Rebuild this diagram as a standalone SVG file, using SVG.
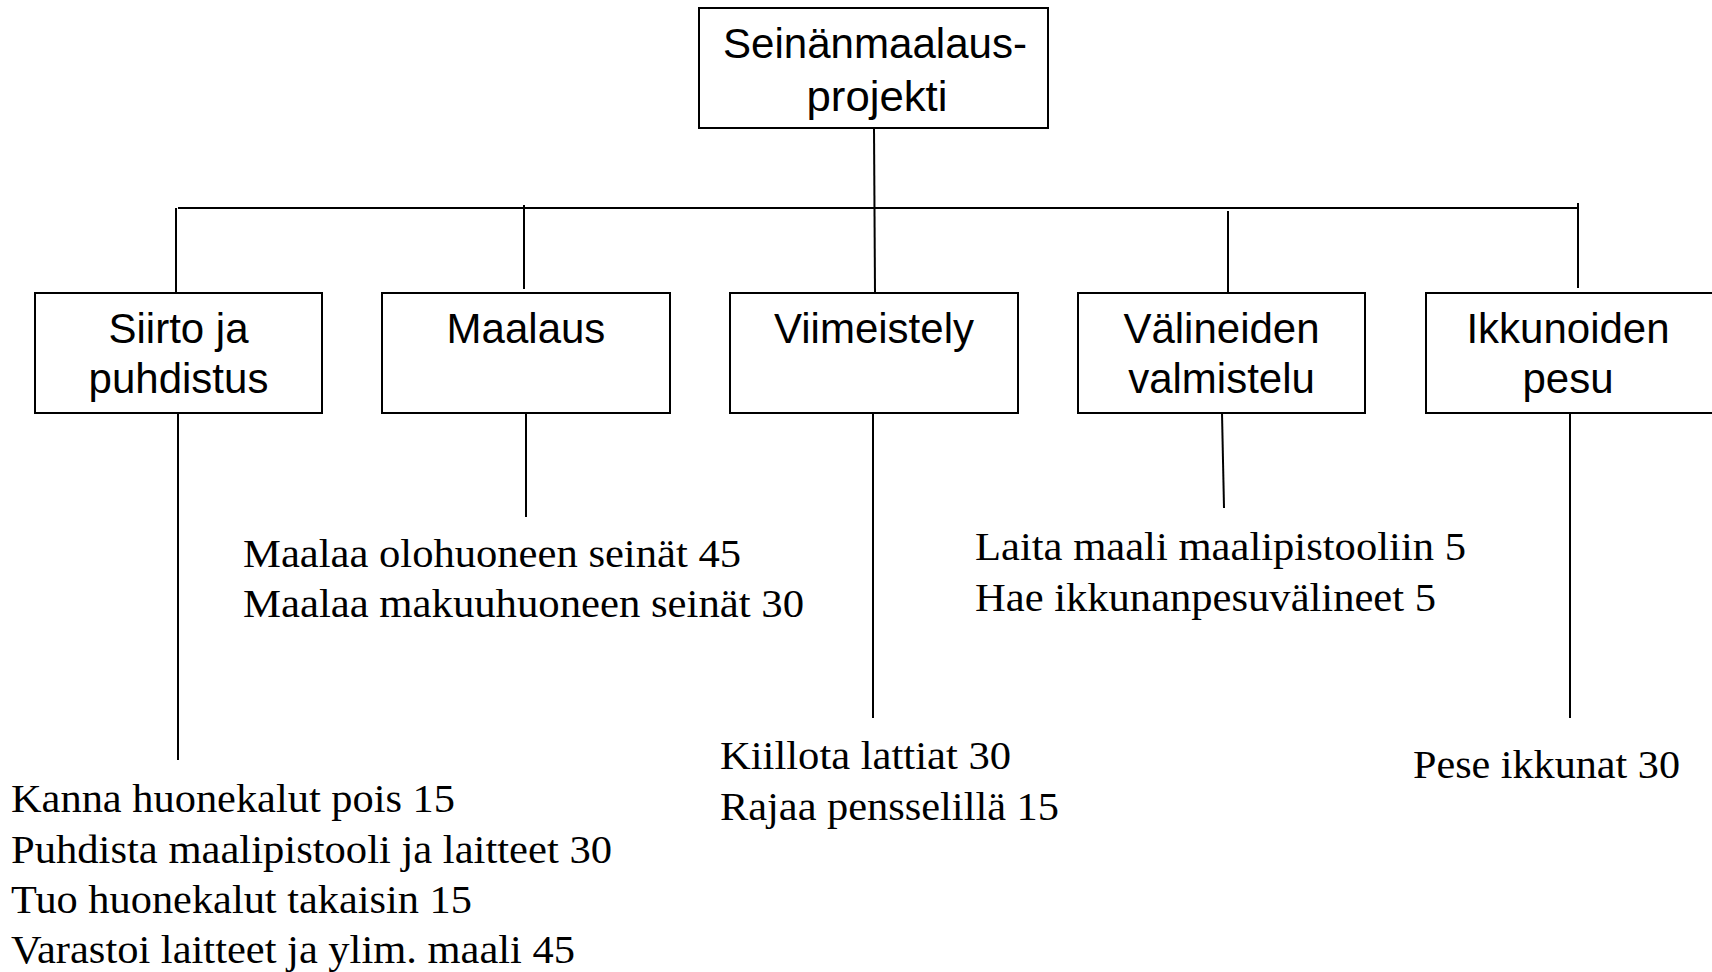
<svg xmlns="http://www.w3.org/2000/svg" width="1712" height="972" viewBox="0 0 1712 972">
<style>
.box{fill:#fff;stroke:#000;stroke-width:2}
.ln{stroke:#000;stroke-width:2;fill:none}
.bt{font-family:"Liberation Sans",Arial,sans-serif;font-size:42px;fill:#000;text-anchor:middle}
.tt{font-family:"Liberation Serif","Times New Roman",serif;font-size:41px;fill:#000}
</style>
<rect width="1712" height="972" fill="#fff"/>
<g id="connectors">
<line class="ln" x1="874" y1="128" x2="875" y2="293"/>
<line class="ln" x1="178" y1="208" x2="1578" y2="208"/>
<line class="ln" x1="1578" y1="203" x2="1578" y2="288"/>
<line class="ln" x1="176" y1="208" x2="176" y2="293"/>
<line class="ln" x1="524" y1="205" x2="524" y2="289"/>
<line class="ln" x1="1228" y1="211" x2="1228" y2="295"/>
<line class="ln" x1="178" y1="413" x2="178" y2="760"/>
<line class="ln" x1="526" y1="413" x2="526" y2="517"/>
<line class="ln" x1="873" y1="413" x2="873" y2="718"/>
<line class="ln" x1="1222" y1="413" x2="1224" y2="508"/>
<line class="ln" x1="1570" y1="413" x2="1570" y2="718"/>
</g>
<g id="root">
<rect class="box" x="699" y="8" width="349" height="120"/>
<text class="bt" x="875" y="58" font-size="40" textLength="304" lengthAdjust="spacingAndGlyphs">Seinänmaalaus-</text>
<text class="bt" x="877" y="111" font-size="40" textLength="141" lengthAdjust="spacingAndGlyphs">projekti</text>
</g>
<g id="siirto">
<rect class="box" x="35" y="293" width="287" height="120"/>
<text class="bt" x="178.5" y="343">Siirto ja</text>
<text class="bt" x="178.5" y="393">puhdistus</text>
</g>
<g id="maalaus">
<rect class="box" x="382" y="293" width="288" height="120"/>
<text class="bt" x="526" y="343">Maalaus</text>
</g>
<g id="viimeistely">
<rect class="box" x="730" y="293" width="288" height="120"/>
<text class="bt" x="874" y="343">Viimeistely</text>
</g>
<g id="valineiden">
<rect class="box" x="1078" y="293" width="287" height="120"/>
<text class="bt" x="1221.5" y="343">Välineiden</text>
<text class="bt" x="1221.5" y="393">valmistelu</text>
</g>
<g id="ikkunoiden">
<rect class="box" x="1426" y="293" width="290" height="120"/>
<text class="bt" x="1568" y="343">Ikkunoiden</text>
<text class="bt" x="1568" y="393">pesu</text>
</g>
<g id="siirto-tasks">
<text class="tt" x="11" y="812" textLength="444" lengthAdjust="spacingAndGlyphs">Kanna huonekalut pois 15</text>
<text class="tt" x="11" y="863" textLength="601" lengthAdjust="spacingAndGlyphs">Puhdista maalipistooli ja laitteet 30</text>
<text class="tt" x="11" y="913" textLength="461" lengthAdjust="spacingAndGlyphs">Tuo huonekalut takaisin 15</text>
<text class="tt" x="11" y="963" textLength="564" lengthAdjust="spacingAndGlyphs">Varastoi laitteet ja ylim. maali 45</text>
</g>
<g id="maalaus-tasks">
<text class="tt" x="243" y="567" textLength="498" lengthAdjust="spacingAndGlyphs">Maalaa olohuoneen seinät 45</text>
<text class="tt" x="243" y="617" textLength="561" lengthAdjust="spacingAndGlyphs">Maalaa makuuhuoneen seinät 30</text>
</g>
<g id="viimeistely-tasks">
<text class="tt" x="720" y="769" textLength="291" lengthAdjust="spacingAndGlyphs">Kiillota lattiat 30</text>
<text class="tt" x="720" y="820" textLength="339" lengthAdjust="spacingAndGlyphs">Rajaa pensselillä 15</text>
</g>
<g id="valineiden-tasks">
<text class="tt" x="975" y="560" textLength="491" lengthAdjust="spacingAndGlyphs">Laita maali maalipistooliin 5</text>
<text class="tt" x="975" y="611" textLength="461" lengthAdjust="spacingAndGlyphs">Hae ikkunanpesuvälineet 5</text>
</g>
<g id="ikkunoiden-tasks">
<text class="tt" x="1413" y="778" textLength="267" lengthAdjust="spacingAndGlyphs">Pese ikkunat 30</text>
</g>
</svg>
